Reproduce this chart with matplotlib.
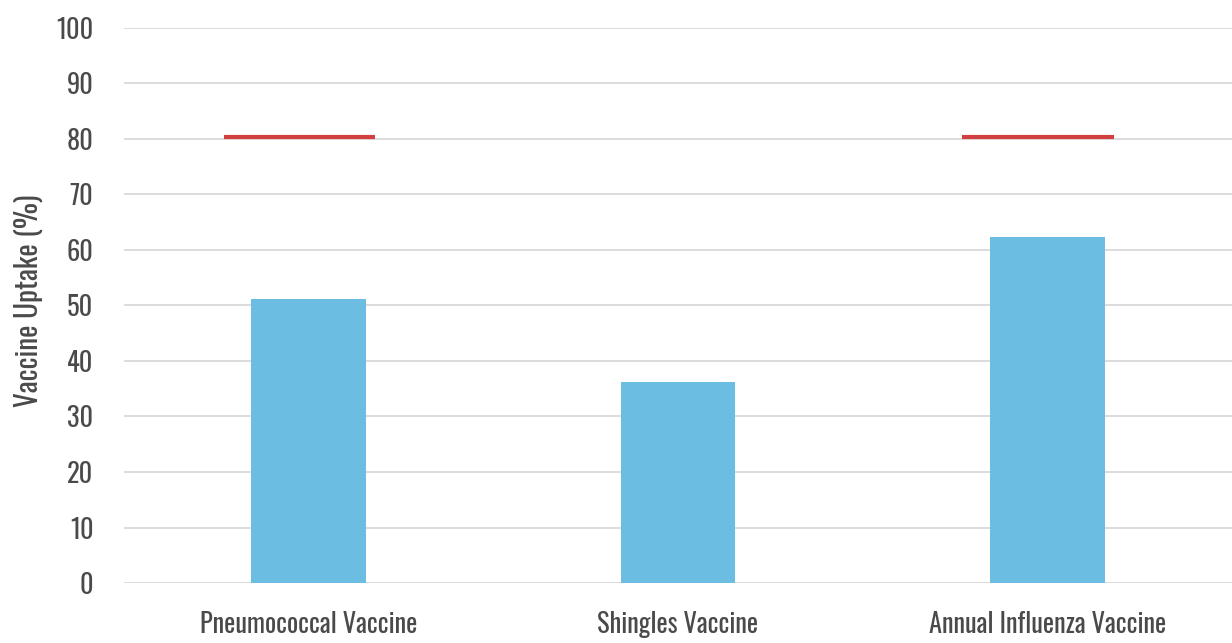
import matplotlib
matplotlib.use("Agg")
import matplotlib.pyplot as plt
from matplotlib import font_manager

# Vaccine uptake among older adults, with target levels
categories = ["Pneumococcal Vaccine", "Shingles Vaccine", "Annual Influenza Vaccine"]
uptake = [51.1, 36.2, 62.4]
target_categories = ["Pneumococcal Vaccine", "Annual Influenza Vaccine"]
targets = [80.4, 80.4]
y_ticks = [0, 10, 20, 30, 40, 50, 60, 70, 80, 90, 100]

names = {f.name for f in font_manager.fontManager.ttflist}
family = [n for n in ["Oswald", "Roboto Condensed", "Archivo Narrow", "DejaVu Sans"] if n in names][:1]
plt.rcParams["font.family"] = family + ["DejaVu Sans"]
plt.rcParams["font.weight"] = 500

text_color = "#4a4a4a"
bar_color = "#6cbde2"
target_color = "#d23f3f"
grid_color = "#d9d9d9"

fig = plt.figure(figsize=(12.32, 6.43), dpi=100)
ax = fig.add_axes([0.1006, 0.0933, 0.8994, 0.8632])

x = list(range(len(categories)))
ax.bar(x, uptake, width=0.31, color=bar_color, zorder=2)

# target markers drawn as short horizontal segments over the bars' slots
for cat, t in zip(target_categories, targets):
    i = categories.index(cat)
    ax.hlines(t, i - 0.23, i + 0.18, color=target_color, linewidth=3, zorder=3)

ax.set_xlim(-0.5, len(categories) - 0.5)
ax.set_ylim(0, 100)
ax.set_yticks(y_ticks)
ax.set_xticks(x)
ax.set_xticklabels(categories)

ax.yaxis.grid(True, color=grid_color, linewidth=1.3, zorder=0)
ax.set_axisbelow(True)
for s in ax.spines.values():
    s.set_visible(False)
ax.tick_params(axis="both", length=0, colors=text_color, labelsize=19)
ax.tick_params(axis="y", pad=22)
ax.tick_params(axis="x", pad=20)

ax.set_ylabel("Vaccine Uptake (%)", color=text_color, fontsize=21)
ax.yaxis.set_label_coords(-0.073, 0.508)

fig.savefig("out.png", dpi=100, facecolor="white")
